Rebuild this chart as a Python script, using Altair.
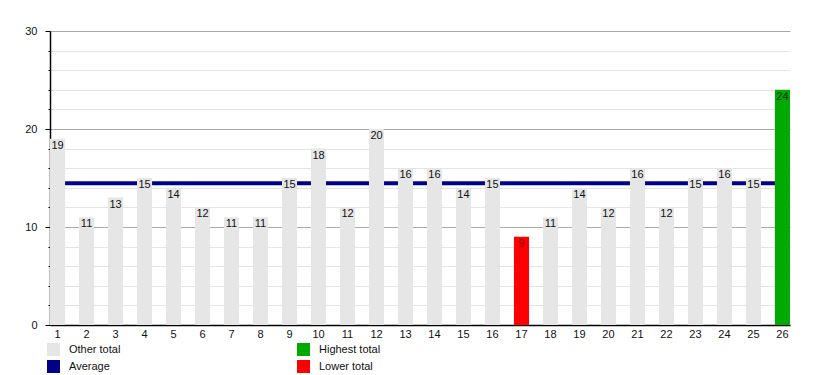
import altair as alt
import pandas as pd

periods = [str(i) for i in range(1, 27)]
totals = [19, 11, 13, 15, 14, 12, 11, 11, 15, 18, 12, 20, 16, 16, 14, 15, 9, 11, 14, 12, 16, 12, 15, 16, 15, 24]
categories = ["Other total"] * 26
categories[16] = "Lower total"
categories[25] = "Highest total"

legend_domain = ["Other total", "Average", "Highest total", "Lower total"]
legend_colors = ["#e6e6e6", "#000088", "#00aa00", "#ff0000"]
y_ticks = list(range(0, 31, 2))

df = pd.DataFrame({"period": periods, "total": totals, "category": categories})

FONT = "Liberation Sans"

x_enc = alt.X(
    "period:N",
    sort=None,
    scale=alt.Scale(paddingInner=0.48, paddingOuter=0),
    axis=alt.Axis(
        title=None, labelAngle=0, tickSize=0, labelPadding=3,
        domainColor="#000000", domainWidth=1.5, grid=False,
        labelFont=FONT, labelFontSize=11, labelColor="#111111",
    ),
)
y_scale = alt.Scale(domain=[0, 30], nice=False)
y_axis = alt.Axis(
    title=None,
    values=y_ticks,
    tickCount=40,
    labelExpr="datum.value % 10 === 0 ? datum.label : ''",
    labelOverlap=False,
    tickSize={"condition": {"test": "datum.value % 10 === 0", "value": 5}, "value": 2},
    tickColor="#000000",
    domainColor="#000000",
    domainWidth=1.5,
    grid=True,
    gridColor={"condition": {"test": "datum.value % 10 === 0", "value": "#aaaaaa"}, "value": "#e4e4e4"},
    gridWidth=1,
    labelPadding=8,
    labelFont=FONT,
    labelFontSize=11,
    labelColor="#111111",
)

base = alt.Chart(df)

avg_line = base.mark_rule(color="#000088", strokeWidth=4).encode(
    y=alt.Y("mean(total):Q", scale=y_scale, axis=y_axis),
)

bars = base.mark_bar().encode(
    x=x_enc,
    y=alt.Y("total:Q", scale=y_scale, axis=y_axis),
    color=alt.Color(
        "category:N",
        scale=alt.Scale(domain=legend_domain, range=legend_colors),
        legend=alt.Legend(
            title=None, orient="none", legendX=-3, legendY=312,
            columns=2, columnPadding=176, rowPadding=4,
            symbolType="square", symbolSize=169, symbolStrokeWidth=0,
            symbolOpacity=1, labelOffset=9, labelFont=FONT, labelFontSize=11,
            labelColor="#111111",
        ),
    ),
)

label_color = {
    "condition": [
        {"test": "datum.category === 'Lower total'", "value": "#880000"},
        {"test": "datum.category === 'Highest total'", "value": "#003300"},
    ],
    "value": "#111111",
}

labels = base.mark_text(baseline="top", dy=1, fontSize=11, font=FONT).encode(
    x=x_enc,
    y=alt.Y("total:Q", scale=y_scale),
    text=alt.Text("total:Q"),
    color=label_color,
)

chart = alt.layer(avg_line, bars, labels).properties(
    width=740,
    height=294,
    autosize=alt.AutoSizeParams(type="none"),
    padding={"left": 42, "top": 23, "right": 5, "bottom": 50},
).configure_view(stroke=None)

chart.save("out.html", embed_options={"renderer": "svg", "actions": False})
